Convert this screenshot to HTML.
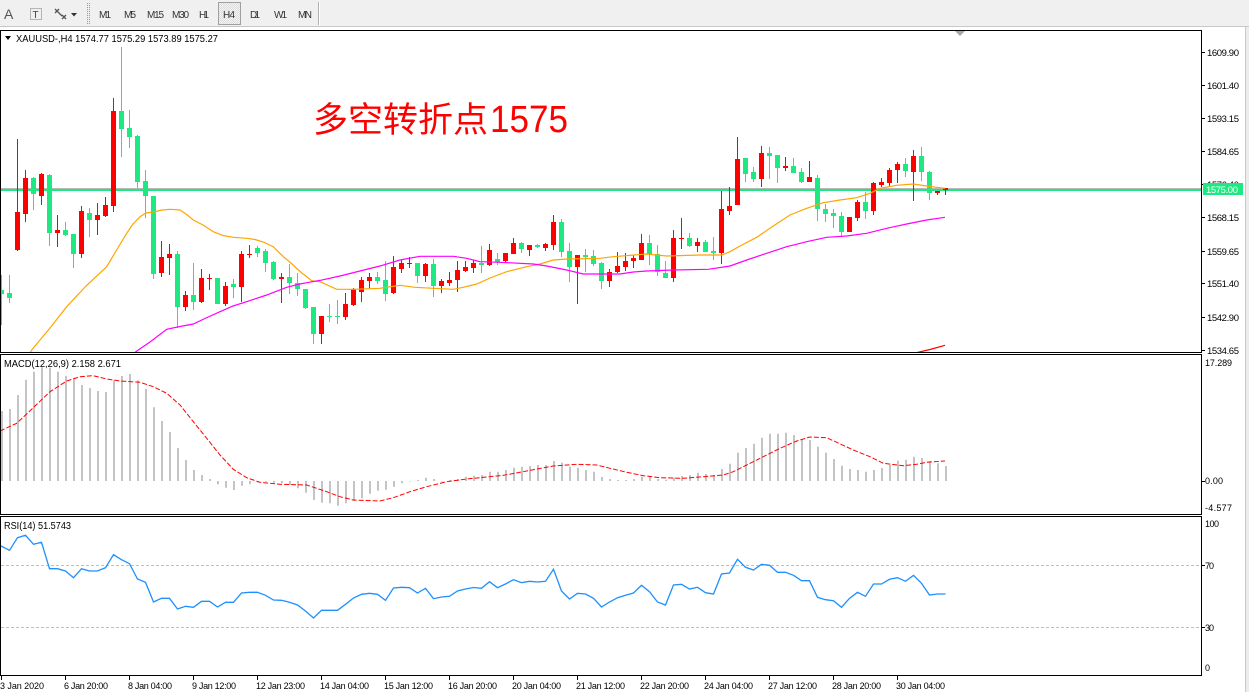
<!DOCTYPE html>
<html><head><meta charset="utf-8"><style>
html,body{margin:0;padding:0;background:#fff;width:1249px;height:692px;overflow:hidden}
svg{display:block}
text{font-family:"Liberation Sans","Noto Sans CJK SC",sans-serif}
</style></head><body>
<svg width="1249" height="692" viewBox="0 0 1249 692" xmlns="http://www.w3.org/2000/svg">
<defs>
<clipPath id="cm"><rect x="1" y="31" width="1200" height="321"/></clipPath>
<clipPath id="cd"><rect x="1" y="355" width="1200" height="159"/></clipPath>
<clipPath id="cr"><rect x="1" y="517" width="1200" height="158"/></clipPath>
<pattern id="dots" width="2" height="2" patternUnits="userSpaceOnUse"><rect width="2" height="2" fill="#f4f4f4"/><rect width="1" height="1" fill="#dcdcdc"/><rect x="1" y="1" width="1" height="1" fill="#dcdcdc"/></pattern>
</defs>
<rect width="1249" height="692" fill="#fff"/>
<!-- toolbar -->
<rect x="0" y="0" width="1249" height="27" fill="#f0f0f0"/>
<line x1="0" y1="26.5" x2="1249" y2="26.5" stroke="#c8c8c8"/>
<text x="4" y="19" font-size="14" fill="#555">A</text>
<rect x="30.5" y="8.5" width="11" height="11" fill="none" stroke="#777" stroke-dasharray="1,1"/>
<text x="32.5" y="18" font-size="10" fill="#444">T</text>
<path d="M55 9l4 4M55 13l4-4M62 15l4 4M62 19l4-4M59 13l3 3" stroke="#555" stroke-width="1.3" fill="none"/>
<path d="M71 13h6l-3 3.5z" fill="#333"/>
<path d="M87.5 3V25M89.5 3V25" stroke="#999" stroke-dasharray="1,1"/>
<g font-size="10" fill="#333">
<text x="99" y="18" textLength="12">M1</text>
<text x="124" y="18" textLength="12">M5</text>
<text x="147" y="18" textLength="17">M15</text>
<text x="172" y="18" textLength="17">M30</text>
<text x="199" y="18" textLength="10">H1</text>
<rect x="218.5" y="2.5" width="22" height="22" fill="url(#dots)" stroke="#a0a0a0"/>
<text x="223" y="18" textLength="12">H4</text>
<text x="250" y="18" textLength="10">D1</text>
<text x="274" y="18" textLength="13">W1</text>
<text x="298" y="18" textLength="14">MN</text>
</g>
<line x1="318.5" y1="2" x2="318.5" y2="25" stroke="#b0b0b0"/>
<line x1="319.5" y1="2" x2="319.5" y2="25" stroke="#fff"/>
<!-- right strip -->
<rect x="1245" y="27" width="4" height="665" fill="#ececec"/>
<line x1="1245.5" y1="27" x2="1245.5" y2="692" stroke="#c8c8c8"/>

<!-- pane borders -->
<rect x="0.5" y="30.5" width="1201" height="322" fill="none" stroke="#000"/>
<rect x="0.5" y="354.5" width="1201" height="160" fill="none" stroke="#000"/>
<rect x="0.5" y="516.5" width="1201" height="159" fill="none" stroke="#000"/>

<!-- main pane -->
<g clip-path="url(#cm)">
<rect x="1" y="188" width="1200" height="1" fill="#b8b8b8"/>
<rect x="1" y="189" width="1200" height="2" fill="#1ee882"/>
<path fill="none" stroke="#ff0000" stroke-width="1" d="M17.5 139V251M25.5 170V222M41.5 173V205M57.5 215V247M81.5 206V258M97.5 203V235M105.5 197V217M113.5 98V212M161.5 241V277M169.5 244V275M185.5 291V311M201.5 269V303M209.5 274V290M225.5 282V306M241.5 251V302M249.5 245V258M281.5 273V303M321.5 316V344M345.5 293V320M353.5 288V306M361.5 277V302M369.5 273V288M393.5 256V294M401.5 260V273M409.5 257V268M425.5 263V282M441.5 279V293M449.5 272V286M457.5 261V292M465.5 261V272M473.5 260V273M489.5 244V266M505.5 253V262M513.5 238V254M529.5 245V256M545.5 243V251M553.5 215V250M577.5 255V304M609.5 269V287M617.5 252V273M625.5 253V271M633.5 255V268M641.5 234V260M673.5 230V282M681.5 218V249M697.5 238V252M721.5 191V264M729.5 187V215M737.5 137V205M761.5 146V187M785.5 157V171M809.5 161V182M849.5 217V232M857.5 200V221M873.5 182V215M881.5 178V187M889.5 168V187M897.5 162V183M913.5 150V201M937.5 191V195M945.5 188V195"/>
<path fill="#ff0000" d="M15 212h5v38h-5zM23 178h5v36h-5zM39 174h5v22h-5zM55 230h5v3h-5zM79 211h5v43h-5zM95 215h5v5h-5zM103 205h5v11h-5zM111 111h5v95h-5zM159 257h5v16h-5zM167 254h5v4h-5zM183 295h5v12h-5zM199 278h5v24h-5zM207 278h5v1h-5zM223 286h5v18h-5zM239 254h5v33h-5zM247 254h5v1h-5zM279 277h5v2h-5zM319 316h5v18h-5zM343 304h5v13h-5zM351 289h5v16h-5zM359 280h5v12h-5zM367 277h5v4h-5zM391 267h5v26h-5zM399 263h5v6h-5zM407 263h5v1h-5zM423 264h5v12h-5zM439 281h5v5h-5zM447 280h5v3h-5zM455 270h5v10h-5zM463 267h5v4h-5zM471 263h5v5h-5zM487 250h5v15h-5zM503 253h5v8h-5zM511 243h5v11h-5zM527 245h5v5h-5zM543 244h5v4h-5zM551 222h5v23h-5zM575 255h5v12h-5zM607 272h5v9h-5zM615 266h5v6h-5zM623 261h5v6h-5zM631 258h5v3h-5zM639 243h5v17h-5zM671 238h5v40h-5zM679 238h5v1h-5zM695 242h5v4h-5zM719 209h5v44h-5zM727 206h5v5h-5zM735 159h5v46h-5zM759 153h5v26h-5zM783 166h5v2h-5zM807 177h5v5h-5zM847 217h5v15h-5zM855 202h5v16h-5zM871 183h5v28h-5zM879 182h5v3h-5zM887 170h5v13h-5zM895 164h5v6h-5zM911 156h5v16h-5zM935 191h5v2h-5zM943 188h5v2h-5z"/>
<path fill="none" stroke="#1ee882" stroke-width="1" d="M1.5 275V325M9.5 275V303M33.5 177V210M49.5 174V246M65.5 222V236M73.5 234V268M89.5 208V237M121.5 47V157M129.5 110V148M137.5 135V188M145.5 170V218M153.5 196V279M177.5 251V328M193.5 263V310M217.5 278V304M233.5 279V298M257.5 246V257M265.5 249V272M273.5 261V280M289.5 264V294M297.5 273V296M305.5 289V309M313.5 307V344M329.5 304V322M337.5 300V324M377.5 272V284M385.5 261V301M417.5 263V283M433.5 259V297M481.5 246V273M497.5 253V265M521.5 242V253M537.5 244V248M561.5 219V257M569.5 243V282M585.5 249V272M593.5 250V266M601.5 262V289M649.5 235V265M657.5 245V276M665.5 261V278M689.5 233V247M705.5 240V252M713.5 237V260M745.5 158V182M753.5 167V182M769.5 147V179M777.5 155V183M793.5 158V173M801.5 168V183M817.5 175V221M825.5 204V222M833.5 209V228M841.5 212V237M865.5 192V219M905.5 158V177M921.5 147V181M929.5 171V200"/>
<path fill="#1ee882" d="M-1 290h5v4h-5zM7 293h5v5h-5zM31 178h5v16h-5zM47 175h5v58h-5zM63 230h5v5h-5zM71 234h5v20h-5zM87 213h5v7h-5zM119 111h5v18h-5zM127 128h5v9h-5zM135 136h5v46h-5zM143 181h5v15h-5zM151 196h5v78h-5zM175 254h5v53h-5zM191 295h5v7h-5zM215 278h5v26h-5zM231 284h5v3h-5zM255 248h5v5h-5zM263 251h5v12h-5zM271 262h5v17h-5zM287 277h5v6h-5zM295 283h5v6h-5zM303 289h5v19h-5zM311 307h5v27h-5zM327 316h5v1h-5zM335 316h5v1h-5zM375 277h5v4h-5zM383 280h5v14h-5zM415 263h5v13h-5zM431 264h5v22h-5zM479 263h5v2h-5zM495 259h5v3h-5zM519 243h5v6h-5zM535 245h5v2h-5zM559 222h5v30h-5zM567 251h5v16h-5zM583 255h5v2h-5zM591 256h5v8h-5zM599 263h5v18h-5zM647 243h5v11h-5zM655 254h5v18h-5zM663 273h5v5h-5zM687 238h5v8h-5zM703 242h5v10h-5zM711 251h5v2h-5zM743 158h5v16h-5zM751 172h5v7h-5zM767 153h5v3h-5zM775 155h5v13h-5zM791 166h5v7h-5zM799 172h5v10h-5zM815 178h5v31h-5zM823 209h5v5h-5zM831 213h5v3h-5zM839 216h5v16h-5zM863 202h5v9h-5zM903 164h5v7h-5zM919 156h5v16h-5zM927 172h5v21h-5z"/>
<polyline fill="none" stroke="#ffa500" stroke-width="1.2" points="26,360 31.7,350 50,328 66.7,306.7 86,286 106.7,266.7 116,251 126.7,233.3 133,224 140,216.7 146,213 153.3,212 162,210 170,209.3 180,210 186,214 193.3,220 203,225 213.3,231.7 223,235.5 233.3,237.3 246.7,238.3 255,239.5 263.3,242 273.3,246.7 283.3,256.7 292,264 300,271.5 311.7,280.7 320,281.7 336.7,289.3 353.3,289.3 380,288.3 400,285.3 415,287.3 433.3,288.3 453.3,289.3 463.3,287.3 476.7,284 490,278 506.7,271.7 526.7,266.7 540,264 553.3,260 566.7,259 600,258.3 613.3,256.7 646.7,254 666.7,256 700,255 721.7,255 730,251.7 740,246 756.7,237.3 773.3,226 790,215 806.7,208.3 823.3,202.7 840,200 856.7,197.7 870,193.3 880,188.3 896.7,185.3 913.3,184 926.7,186 936.7,187.3 945,188.3"/>
<polyline fill="none" stroke="#ff00ff" stroke-width="1.2" points="130,356 138.3,350 150,342 166.7,329.3 180,326.5 193.3,324 206,318 220,311.7 233,306 246.7,301.7 266.7,295 286.7,287.3 300,284 306.7,282.7 320,280.4 340,276 360,271 380,266 400,260 420,256.3 453.3,256.3 466.7,258.3 480,261.7 500,262.3 533.3,264 546.7,266 566.7,270 583.3,274 620,274 633.3,272 646.7,271 673.3,270 708.3,269.3 730,266 746.7,260 766.7,253.3 786.7,246.7 806.7,241.7 826.7,237.3 846.7,236 866.7,233.3 886.7,228.3 906.7,224 926.7,220 945,217.3"/>
<polyline fill="none" stroke="#ff0000" stroke-width="1.2" points="915,353 930,349.5 945,345.3"/>
<path d="M955 31h10l-5 5z" fill="#a8a8a8"/>
</g>
<text x="313" y="132" font-size="35" fill="#ff0000" textLength="175" lengthAdjust="spacingAndGlyphs" style='font-family:"Noto Sans CJK SC","WenQuanYi Zen Hei",sans-serif'>多空转折点</text>
<text x="490" y="132" font-size="38" fill="#ff0000" textLength="78" lengthAdjust="spacingAndGlyphs">1575</text>
<path d="M5 36h6l-3 4z" fill="#000"/>
<text x="16" y="42" font-size="10" fill="#000" textLength="202" lengthAdjust="spacingAndGlyphs">XAUUSD-,H4  1574.77 1575.29 1573.89 1575.27</text>

<!-- price axis -->
<g stroke="#000"><path d="M1202 52.5h3M1202 85.5h3M1202 118.5h3M1202 151.5h3M1202 184.5h3M1202 217.5h3M1202 251.5h3M1202 283.5h3M1202 317.5h3M1202 350.5h3"/></g>
<g font-size="9.5" fill="#000">
<text x="1207" y="56" textLength="32">1609.90</text>
<text x="1207" y="89" textLength="32">1601.40</text>
<text x="1207" y="122" textLength="32">1593.15</text>
<text x="1207" y="155" textLength="32">1584.65</text>
<text x="1207" y="188" textLength="32">1576.40</text>
<text x="1207" y="221" textLength="32">1568.15</text>
<text x="1207" y="255" textLength="32">1559.65</text>
<text x="1207" y="287" textLength="32">1551.40</text>
<text x="1207" y="321" textLength="32">1542.90</text>
<text x="1207" y="354" textLength="32">1534.65</text>
</g>
<rect x="1203" y="183" width="40" height="12" fill="#1ee882"/>
<text x="1206" y="193" font-size="9.5" fill="#fff" textLength="32">1575.00</text>

<!-- MACD pane -->
<g clip-path="url(#cd)">
<path fill="none" stroke="#c4c4c4" stroke-width="2" d="M2 481V411M10 481V409M18 481V395M26 481V379.7M34 481V371.7M42 481V367.3M50 481V367.7M58 481V371.7M66 481V376M74 481V377.7M82 481V385M90 481V388M98 481V391M106 481V392M114 481V380.3M122 481V376M130 481V374M138 481V380.3M146 481V388.7M154 481V407.3M162 481V421M170 481V432M178 481V448M186 481V460M194 481V470M202 481V475M210 481V479M218 481V484.3M226 481V487.7M234 481V490M242 481V485.7M250 481V484.3M258 481V482.7M266 481V481.7M274 481V482.7M282 481V483.3M290 481V485M298 481V488.3M306 481V492.7M314 481V500M322 481V502.7M330 481V503.3M338 481V505.7M346 481V503.3M354 481V501M362 481V498.3M370 481V493.7M378 481V490.7M386 481V489.7M394 481V486.7M402 481V483.3M410 481V481.5M418 481V480M426 481V477.7M434 481V479M442 481V481.5M450 481V480M458 481V479M466 481V476.7M474 481V475.7M482 481V475M490 481V471.7M498 481V471.7M506 481V470M514 481V467.7M522 481V466.7M530 481V466M538 481V465M546 481V465M554 481V461M562 481V462.7M570 481V466.7M578 481V467.7M586 481V470M594 481V471.7M602 481V477M610 481V479M618 481V480M626 481V480M634 481V479M642 481V476.7M650 481V476M658 481V479M666 481V479.7M674 481V477.7M682 481V476M690 481V475M698 481V472.7M706 481V474M714 481V475M722 481V469M730 481V463.7M738 481V452.7M746 481V448M754 481V443.7M762 481V437.7M770 481V433.7M778 481V433.7M786 481V432.7M794 481V435M802 481V439M810 481V440M818 481V446.7M826 481V452.7M834 481V459M842 481V465.7M850 481V469M858 481V470M866 481V471.7M874 481V470M882 481V468M890 481V465M898 481V460.7M906 481V459.7M914 481V456.7M922 481V458M930 481V461M938 481V463.3M946 481V466"/>
<polyline fill="none" stroke="#ff0000" stroke-width="1" stroke-dasharray="5,2" points="0,431 16.7,423.3 33.3,407.7 50,391.7 66.7,381 80,376.7 93.3,375.7 106.7,379 120,381 140,382.3 153.3,386.7 166.7,393.3 180,405 193.3,421.7 206.7,438.3 220,455 233.3,469.3 246.7,477.7 260,482.3 280,484.3 306.7,485 326.7,491.7 340,496.7 353.3,500 380,501 393.3,497.7 410,491.7 426.7,486.7 446.7,481.7 466.7,479 486.7,477 503.3,475.3 520,472.3 536.7,469 553.3,466 576.7,464.3 596.7,465 610,468.3 626.7,472.3 643.3,475.7 660,477.7 683.3,478.3 703.3,476.7 723.3,475 733.3,471.7 746.7,465 763.3,456.7 780,448.3 796.7,441 810,437 826.7,437.7 836.7,442.3 853.3,450 870,456.7 883.3,463.3 903.3,465.7 916.7,464.3 926.7,462.3 945,461"/>
</g>
<text x="4" y="367" font-size="10" fill="#000" textLength="117" lengthAdjust="spacingAndGlyphs">MACD(12,26,9) 2.158 2.671</text>
<path d="M1202 481.5h3" stroke="#000"/>
<g font-size="9" fill="#000">
<text x="1205" y="366" textLength="27">17.289</text>
<text x="1205" y="484" textLength="18">0.00</text>
<text x="1205" y="511" textLength="27">-4.577</text>
</g>

<!-- RSI pane -->
<g clip-path="url(#cr)">
<path d="M1 565.5H1201M1 627.5H1201" stroke="#c0c0c0" stroke-dasharray="3,2"/>
<polyline fill="none" stroke="#1e90ff" stroke-width="1.3" points="0,546 1.5,546.3 9.5,550.3 17.5,537.7 25.5,535.3 33.5,544.3 41.5,542.3 49.5,568.7 57.5,568.7 65.5,571 73.5,577.7 81.5,568.7 89.5,571 97.5,571 105.5,567.7 113.5,554.7 121.5,559.7 129.5,563.7 137.5,579 145.5,582.3 153.5,602 161.5,598.3 169.5,598.3 177.5,609 185.5,606.3 193.5,607.3 201.5,601.3 209.5,601.3 217.5,607 225.5,602.3 233.5,602.3 241.5,593 249.5,592.3 257.5,592.3 265.5,595.3 273.5,600 281.5,600.3 289.5,602.3 297.5,605 305.5,611 313.5,618 321.5,610.3 329.5,610.3 337.5,610.3 345.5,604.3 353.5,598 361.5,594.3 369.5,593.3 377.5,594.3 385.5,600.3 393.5,588 401.5,587.3 409.5,587.7 417.5,593 425.5,588.3 433.5,598.7 441.5,597 449.5,596.3 457.5,591 465.5,589 473.5,587.5 481.5,588.3 489.5,581.7 497.5,587.7 505.5,584 513.5,579.7 521.5,582.7 529.5,581.3 537.5,582 545.5,581.3 553.5,569.3 561.5,591 569.5,599 577.5,593.3 585.5,594 593.5,598.3 601.5,607 609.5,602 617.5,597.7 625.5,595.3 633.5,593 641.5,585.3 649.5,591.7 657.5,602 665.5,605 673.5,585 681.5,584.3 689.5,589 697.5,587.3 705.5,592.7 713.5,594 721.5,574 729.5,573 737.5,559.3 745.5,567.3 753.5,570 761.5,564.3 769.5,565.3 777.5,572.3 785.5,572.3 793.5,575.3 801.5,580.7 809.5,580.7 817.5,597.3 825.5,599.7 833.5,600.7 841.5,607.3 849.5,598.3 857.5,592.3 865.5,596.3 873.5,584 881.5,584 889.5,579.3 897.5,577.7 905.5,581.3 913.5,575.3 921.5,583.3 929.5,595 937.5,594 945.5,594"/>
</g>
<text x="4" y="529" font-size="10" fill="#000" textLength="67" lengthAdjust="spacingAndGlyphs">RSI(14) 51.5743</text>
<path d="M1202 565.5h3M1202 627.5h3" stroke="#000"/>
<g font-size="9" fill="#000">
<text x="1205" y="527" textLength="14">100</text>
<text x="1205" y="569" textLength="9">70</text>
<text x="1205" y="631" textLength="9">30</text>
<text x="1205" y="671" textLength="5">0</text>
</g>

<!-- time axis -->
<path stroke="#000" d="M1.5 676v4M65.5 676v4M129.5 676v4M193.5 676v4M257.5 676v4M321.5 676v4M385.5 676v4M449.5 676v4M513.5 676v4M577.5 676v4M641.5 676v4M705.5 676v4M769.5 676v4M833.5 676v4M897.5 676v4"/>
<g font-size="9" fill="#000">
<text x="0" y="689" textLength="44">3 Jan 2020</text>
<text x="64" y="689" textLength="44">6 Jan 20:00</text>
<text x="128" y="689" textLength="44">8 Jan 04:00</text>
<text x="192" y="689" textLength="44">9 Jan 12:00</text>
<text x="256" y="689" textLength="49">12 Jan 23:00</text>
<text x="320" y="689" textLength="49">14 Jan 04:00</text>
<text x="384" y="689" textLength="49">15 Jan 12:00</text>
<text x="448" y="689" textLength="49">16 Jan 20:00</text>
<text x="512" y="689" textLength="49">20 Jan 04:00</text>
<text x="576" y="689" textLength="49">21 Jan 12:00</text>
<text x="640" y="689" textLength="49">22 Jan 20:00</text>
<text x="704" y="689" textLength="49">24 Jan 04:00</text>
<text x="768" y="689" textLength="49">27 Jan 12:00</text>
<text x="832" y="689" textLength="49">28 Jan 20:00</text>
<text x="896" y="689" textLength="49">30 Jan 04:00</text>
</g>
</svg>
</body></html>
